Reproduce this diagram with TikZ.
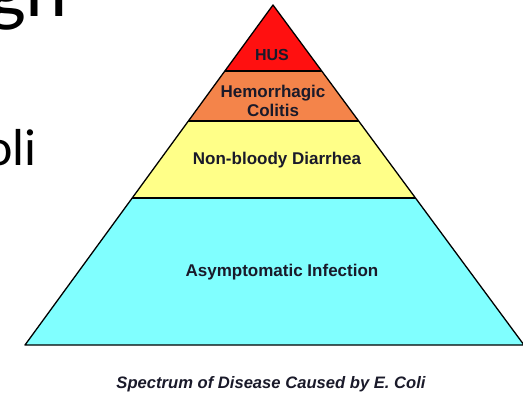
\documentclass[tikz,border=0pt]{standalone}
\usepackage{fontspec}
\setmainfont{Liberation Sans}
\newfontfamily\slidefont{Carlito}
\usetikzlibrary{calc}
\definecolor{husred}{HTML}{FF1010}
\definecolor{hcorange}{HTML}{F4844A}
\definecolor{nbyellow}{HTML}{FFFF88}
\definecolor{aicyan}{HTML}{80FFFF}
\definecolor{labelink}{HTML}{1A1A2A}
\begin{document}
\begin{tikzpicture}[x=1pt,y=-1pt,
  layerlabel/.style={font=\fontsize{17}{18.5}\selectfont\bfseries, text=labelink, align=center, inner sep=0pt},
  edge/.style={draw=black, line width=1.3pt, line join=round},
  fragment/.style={inner sep=0pt, text=black}]
\useasboundingbox (0,0) rectangle (523,394);
\fill[white] (0,0) rectangle (523,394);
% pyramid corners
\coordinate (A) at (273,5);
\coordinate (BL) at (25,345);
\coordinate (BR) at (524,345);
% layer boundaries
\coordinate (L1) at ($(A)!0.1941!(BL)$);
\coordinate (R1) at ($(A)!0.1941!(BR)$);
\coordinate (L2) at ($(A)!0.3412!(BL)$);
\coordinate (R2) at ($(A)!0.3412!(BR)$);
\coordinate (L3) at ($(A)!0.5676!(BL)$);
\coordinate (R3) at ($(A)!0.5676!(BR)$);
% fills
\fill[husred] (A) -- (R1) -- (L1) -- cycle;
\fill[hcorange] (L1) -- (R1) -- (R2) -- (L2) -- cycle;
\fill[nbyellow] (L2) -- (R2) -- (R3) -- (L3) -- cycle;
\fill[aicyan] (L3) -- (R3) -- (BR) -- (BL) -- cycle;
% lines
\draw[edge] (L1) -- (R1);
\draw[edge] (L2) -- (R2);
\draw[edge] (L3) -- (R3);
\draw[edge] (A) -- (BR) -- (BL) -- cycle;
% labels
\node[layerlabel, font=\fontsize{16}{18}\selectfont\bfseries] (hus) at (272,55) {HUS};
\node[layerlabel] (hc) at (273,101) {Hemorrhagic\\Colitis};
\node[layerlabel] (nb) at (277,160) {Non-bloody Diarrhea};
\node[layerlabel] (ai) at (282,272) {Asymptomatic Infection};
\node[font=\fontsize{16.6}{18}\selectfont\bfseries\itshape, text=labelink, inner sep=0pt] (title) at (271,384) {Spectrum of Disease Caused by E. Coli};
% cropped slide text fragments
\node[fragment, anchor=base west, font=\slidefont\fontsize{80}{80}\selectfont] (frag1) at (-12,16) {gh};
\node[fragment, anchor=base east, font=\slidefont\fontsize{52}{52}\selectfont] (frag2) at (37,165) {oli};
\end{tikzpicture}
\end{document}
